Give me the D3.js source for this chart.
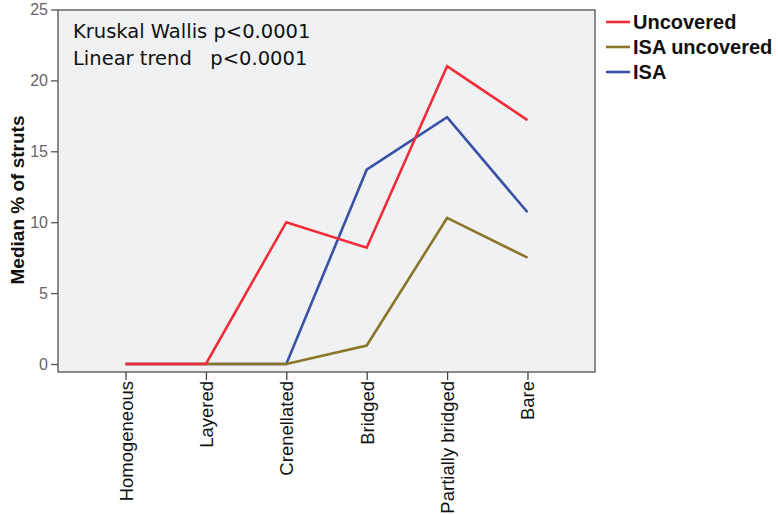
<!DOCTYPE html>
<html>
  <head>
    <meta charset="UTF-8">
    <title>Median % of struts</title>
  </head>
  <style type="text/css">
    body { margin: 0; background: #fff; }
    .tick text { font: 16px "Liberation Sans", Arial, sans-serif; }
  </style>
  <body>
    <svg width="778" height="514"></svg>
  </body>
  <script src="https://d3js.org/d3.v7.min.js"></script>
  <script type="text/javascript">
    const categories = ['Homogeneous', 'Layered', 'Crenellated', 'Bridged', 'Partially bridged', 'Bare'];
    const uncovered = [0, 0, 10, 8.2, 21, 17.2];
    const isaUncovered = [0, 0, 0, 1.3, 10.3, 7.5];
    const isa = [0, 0, 0, 13.7, 17.4, 10.7];
    const yTicks = [0, 5, 10, 15, 20, 25];

    const series = [
      { name: 'Uncovered', values: uncovered, color: '#f12c38' },
      { name: 'ISA uncovered', values: isaUncovered, color: '#8a7629' },
      { name: 'ISA', values: isa, color: '#3a52a6' }
    ];

    let svg = d3.select('svg');
    const plotL = 58, plotR = 595, plotT = 10, plotB = 372;

    const x = d3.scalePoint().domain(categories).range([plotL, plotR]).padding(0.84);
    const y = d3.scaleLinear().domain([0, 25]).range([364, 9.5]);

    svg.append('rect')
      .attr('x', plotL).attr('y', plotT)
      .attr('width', plotR - plotL).attr('height', plotB - plotT)
      .attr('fill', '#f0f1f3')
      .attr('stroke', '#666').attr('stroke-width', 1.5);

    const yAxis = svg.append('g')
      .attr('transform', 'translate(' + plotL + ',0)')
      .call(d3.axisLeft(y).tickValues(yTicks).tickSize(7).tickPadding(3));
    yAxis.select('.domain').remove();
    yAxis.selectAll('.tick line').attr('stroke', '#555').attr('stroke-width', 1.3);
    yAxis.selectAll('.tick text').attr('fill', '#666');

    const xAxis = svg.append('g')
      .attr('transform', 'translate(0,' + plotB + ')')
      .call(d3.axisBottom(x).tickSize(8).tickPadding(0));
    xAxis.select('.domain').remove();
    xAxis.selectAll('.tick line').attr('stroke', '#444').attr('stroke-width', 1.3);
    xAxis.selectAll('.tick text')
      .style('font-size', '18.5px')
      .attr('fill', '#111')
      .attr('transform', 'rotate(-90)')
      .attr('text-anchor', 'end')
      .attr('x', -9).attr('y', 0).attr('dy', '0.35em');

    const line = d3.line()
      .x((d, i) => x(categories[i]))
      .y(d => y(d));

    // blue and olive drawn first so red sits above like the original
    [series[2], series[1], series[0]].forEach(s => {
      svg.append('path')
        .attr('d', line(s.values))
        .attr('fill', 'none')
        .attr('stroke', s.color)
        .attr('stroke-width', 2.6);
    });

    svg.append('text')
      .attr('transform', 'translate(24,' + 200 + ') rotate(-90)')
      .attr('text-anchor', 'middle')
      .style('font', 'bold 19px "Liberation Sans", Arial, sans-serif')
      .attr('fill', '#111')
      .text('Median % of struts');

    const note = svg.append('text')
      .style('font', '19.5px "DejaVu Sans", Tahoma, sans-serif')
      .attr('fill', '#111');
    note.append('tspan').attr('x', 73).attr('y', 38).text('Kruskal Wallis p<0.0001');
    note.append('tspan').attr('x', 73).attr('y', 65).attr('xml:space', 'preserve').text('Linear trend   p<0.0001');

    const legend = svg.append('g');
    series.forEach((s, i) => {
      const ly = 22 + i * 25;
      legend.append('line')
        .attr('x1', 606).attr('x2', 630)
        .attr('y1', ly).attr('y2', ly)
        .attr('stroke', s.color).attr('stroke-width', 2.6);
      legend.append('text')
        .attr('x', 633).attr('y', ly).attr('dy', '0.35em')
        .style('font', 'bold 20px "Liberation Sans", Arial, sans-serif')
        .attr('fill', '#111')
        .text(s.name);
    });
  </script>
</html>
